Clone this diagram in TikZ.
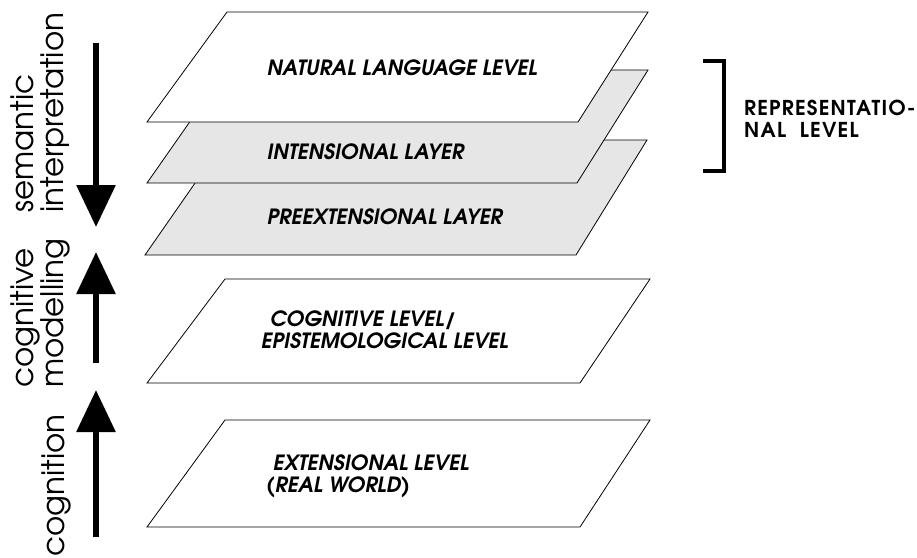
\documentclass[tikz,border=0pt]{standalone}
\usepackage{fontspec}
\newfontfamily\gothic{texgyreadventor}[Extension=.otf, UprightFont=*-regular, BoldFont=*-bold, ItalicFont=*-italic, BoldItalicFont=*-bolditalic]
\usetikzlibrary{positioning, arrows.meta}
\definecolor{layergray}{HTML}{E6E6E6}
\tikzstyle{plane} = [draw, fill=white, line width=0.8pt]
\tikzstyle{grayplane} = [plane, fill=layergray]
\tikzstyle{levelname} = [font=\gothic\bfseries\itshape\fontsize{21}{22}\selectfont, align=left, inner sep=0pt]
\tikzstyle{sidetext} = [font=\gothic\fontsize{31}{30}\selectfont, rotate=90, align=left, inner sep=0pt]
\tikzstyle{bracetext} = [font=\gothic\bfseries\fontsize{20.5}{22}\selectfont\addfontfeatures{LetterSpace=6}, align=left, inner sep=0pt]
\tikzstyle{arrow} = [line width=6pt, -{Triangle[width=38pt,length=42pt]}]

\begin{document}
\begin{tikzpicture}[x=1pt, y=-1pt]
        \useasboundingbox (0,0) rectangle (917,557);
        % layers, from back to front
        \draw [grayplane] (225,140) -- (647,140) -- (576,255) -- (145,255) -- cycle;
        \draw [grayplane] (226,70) -- (648,70) -- (577,183) -- (147,183) -- cycle;
        \draw [plane] (227,12) -- (648,12) -- (578,122) -- (147,122) -- cycle;
        \draw [plane] (225,279) -- (650,279) -- (580,383) -- (147,383) -- cycle;
        \draw [plane] (225,420) -- (650,420) -- (580,527) -- (147,527) -- cycle;
        \node (nat) [levelname, anchor=base west] at (267,75) {NATURAL LANGUAGE LEVEL};
        \node (int) [levelname, anchor=base west] at (267,159) {INTENSIONAL LAYER};
        \node (pre) [levelname, anchor=base west] at (267,224) {PREEXTENSIONAL LAYER};
        \node (cog) [levelname, anchor=north west] at (261,311) {\hspace*{9pt}COGNITIVE LEVEL/\\EPISTEMOLOGICAL LEVEL};
        \node (ext) [levelname, anchor=north west] at (266,454) {\hspace*{7pt}EXTENSIONAL LEVEL\\(REAL WORLD)};
        % representational level
        \coordinate (b1) at (703,61);
        \coordinate (b2) at (703,171);
        \draw [line width=3.5pt] (b1) -- (724,61) -- (724,171) -- (b2);
        \node (rep) [bracetext, anchor=north west] at (744,100) {REPRESENTATIO-\\NAL\ \ LEVEL};
        % arrows on the left
        \coordinate (a1) at (96,43);
        \coordinate (a2) at (96,227);
        \coordinate (a3) at (96,363);
        \coordinate (a4) at (96,252);
        \coordinate (a5) at (96,537);
        \coordinate (a6) at (96,390);
        \draw [arrow] (a1) -- (a2);
        \draw [arrow] (a3) -- (a4);
        \draw [arrow] (a5) -- (a6);
        \node (sem) [sidetext, anchor=west] at (40,213) {semantic\\interpretation};
        \node (mod) [sidetext, anchor=west] at (40,388) {cognitive\\modelling};
        \node (cgn) [sidetext, anchor=base west] at (64,557) {cognition};
\end{tikzpicture}
\end{document}
